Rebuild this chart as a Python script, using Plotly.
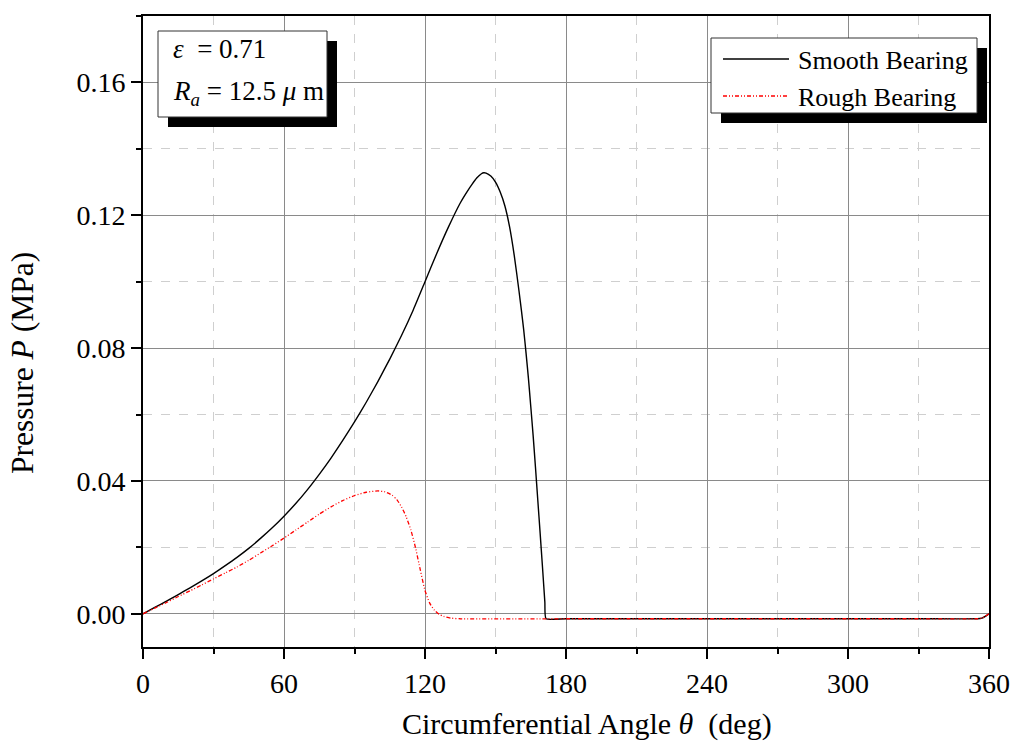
import plotly.graph_objects as go

# ---------------- data ----------------
theta_smooth = [0, 5, 10, 15, 20, 25, 30, 35, 40, 45, 50, 55, 60, 65, 70, 75, 80, 85, 90, 95,
                100, 105, 110, 115, 120, 125, 130, 135, 138, 140, 142, 144, 145, 146, 148, 150,
                152, 154, 156, 158, 160, 161, 162, 163, 164, 165, 166, 167, 168, 169, 170, 171,
                171.5, 180, 210, 240, 270, 300, 330, 355, 357, 360]
p_smooth = [0.0, 0.0019, 0.0038, 0.0058, 0.0078, 0.0099, 0.0121, 0.0145, 0.0170, 0.0197,
            0.0227, 0.0259, 0.0294, 0.0332, 0.0374, 0.0420, 0.0469, 0.0522, 0.0578, 0.0637,
            0.0700, 0.0767, 0.0838, 0.0915, 0.1000, 0.1085, 0.1165, 0.1237, 0.1272, 0.1293,
            0.1312, 0.1325, 0.1328, 0.1327, 0.1318, 0.1300, 0.1270, 0.1228, 0.1165, 0.1078,
            0.0972, 0.0915, 0.0855, 0.0785, 0.0710, 0.0625, 0.0538, 0.0442, 0.0342, 0.0242,
            0.0140, 0.0035, -0.0015,
            -0.0015, -0.0015, -0.0015, -0.0015, -0.0015, -0.0015, -0.0015, -0.0013, 0.0]

theta_rough = [0, 5, 10, 15, 20, 25, 30, 35, 40, 45, 50, 55, 60, 65, 70, 75, 80, 85, 90, 95,
               100, 103, 106, 108, 110, 112, 114, 116, 118, 120, 122, 124, 126, 128, 131, 135,
               180, 210, 240, 270, 300, 330, 355, 357, 360]
p_rough = [0.0, 0.0017, 0.0034, 0.0052, 0.0069, 0.0087, 0.0105, 0.0123, 0.0141, 0.0161,
           0.0183, 0.0205, 0.0228, 0.0252, 0.0276, 0.0300, 0.0322, 0.0341, 0.0356, 0.0366,
           0.0370, 0.0367, 0.0357, 0.0344, 0.0322, 0.0292, 0.0252, 0.0198, 0.0132, 0.0070,
           0.0032, 0.0011, -0.0001, -0.0008, -0.0013, -0.0015,
           -0.0015, -0.0015, -0.0015, -0.0015, -0.0015, -0.0015, -0.0015, -0.0013, 0.0]

series_names = ["Smooth Bearing", "Rough Bearing"]
x_ticks = [0, 60, 120, 180, 240, 300, 360]
y_ticks = [0.00, 0.04, 0.08, 0.12, 0.16]
x_title = "Circumferential Angle <i>θ</i>  (deg)"
y_title = "Pressure <i>P</i> (MPa)"

# ---------------- layout helpers ----------------
W, H = 1013, 743
L, R, T, B = 143, 24, 16, 96
PW, PH = W - L - R, H - T - B


def px(x):
    return (x - L) / PW


def py(y):
    return (H - B - y) / PH


FONT = "Liberation Serif, Times New Roman, serif"
DASH_RED = "4px,2px,1px,2px,1px,2px"
TICK_SIZE = 28
TEXT_SIZE = 27

fig = go.Figure()
fig.add_trace(go.Scatter(x=theta_smooth, y=p_smooth, mode="lines", name=series_names[0],
                         line=dict(color="black", width=1.4, shape="spline", smoothing=0.5),
                         showlegend=False))
fig.add_trace(go.Scatter(x=theta_rough, y=p_rough, mode="lines", name=series_names[1],
                         line=dict(color="red", width=1.3, dash=DASH_RED,
                                   shape="spline", smoothing=0.5),
                         showlegend=False))

axis_common = dict(
    showline=True, linecolor="black", linewidth=2, mirror=True,
    ticks="outside", ticklen=10, tickwidth=2, tickcolor="black",
    showgrid=True, gridcolor="#8a8a8a", gridwidth=1,
    zeroline=False, automargin=False,
    tickfont=dict(family=FONT, size=TICK_SIZE, color="black"),
)

fig.update_xaxes(
    **axis_common,
    range=[0, 360], tickvals=x_ticks,
    minor=dict(dtick=30, tick0=0, ticks="outside", ticklen=5, tickwidth=2, tickcolor="black",
               showgrid=True, gridcolor="#cfcfcf", griddash="dash", gridwidth=1),
)
fig.update_yaxes(
    **axis_common,
    range=[-0.01, 0.18], tickvals=y_ticks, tickformat=".2f",
    minor=dict(dtick=0.02, tick0=0, ticks="outside", ticklen=5, tickwidth=2, tickcolor="black",
               showgrid=True, gridcolor="#cfcfcf", griddash="dash", gridwidth=1),
)

shapes = []
annotations = []

# axis titles (placed as in the reference, slightly off-centre)
annotations.append(dict(xref="paper", yref="paper", x=px(587), y=py(724),
                        xanchor="center", yanchor="middle", showarrow=False,
                        text=x_title, font=dict(family=FONT, size=30, color="black")))
annotations.append(dict(xref="paper", yref="paper", x=px(22), y=py(363),
                        xanchor="center", yanchor="middle", showarrow=False, textangle=-90,
                        text=y_title, font=dict(family=FONT, size=31.5, color="black")))

# parameter box (top-left) with shadow
shapes.append(dict(type="rect", xref="paper", yref="paper",
                   x0=px(168), x1=px(337), y0=py(127), y1=py(41),
                   fillcolor="black", line=dict(width=0)))
shapes.append(dict(type="rect", xref="paper", yref="paper",
                   x0=px(158), x1=px(327), y0=py(117), y1=py(31),
                   fillcolor="white", line=dict(color="#333333", width=1)))
annotations.append(dict(xref="paper", yref="paper", x=px(171), y=py(49),
                        xanchor="left", yanchor="middle", showarrow=False,
                        text="<i>ε</i>  = 0.71",
                        font=dict(family=FONT, size=TEXT_SIZE, color="black")))
annotations.append(dict(xref="paper", yref="paper", x=px(171), y=py(93),
                        xanchor="left", yanchor="middle", showarrow=False,
                        text="<i>R</i><sub><i>a</i></sub> = 12.5 <i>μ</i> m",
                        font=dict(family=FONT, size=TEXT_SIZE, color="black")))

# legend box (top-right) with shadow
shapes.append(dict(type="rect", xref="paper", yref="paper",
                   x0=px(721), x1=px(987), y0=py(123), y1=py(48),
                   fillcolor="black", line=dict(width=0)))
shapes.append(dict(type="rect", xref="paper", yref="paper",
                   x0=px(711), x1=px(977), y0=py(113), y1=py(38),
                   fillcolor="white", line=dict(color="#333333", width=1)))
shapes.append(dict(type="line", xref="paper", yref="paper",
                   x0=px(723), x1=px(789), y0=py(59), y1=py(59),
                   line=dict(color="black", width=1.4)))
shapes.append(dict(type="line", xref="paper", yref="paper",
                   x0=px(723), x1=px(789), y0=py(96), y1=py(96),
                   line=dict(color="red", width=1.3, dash=DASH_RED)))
annotations.append(dict(xref="paper", yref="paper", x=px(796), y=py(60),
                        xanchor="left", yanchor="middle", showarrow=False,
                        text=series_names[0], font=dict(family=FONT, size=26, color="black")))
annotations.append(dict(xref="paper", yref="paper", x=px(796), y=py(97),
                        xanchor="left", yanchor="middle", showarrow=False,
                        text=series_names[1], font=dict(family=FONT, size=26, color="black")))

fig.update_layout(
    width=W, height=H,
    margin=dict(l=L, r=R, t=T, b=B, pad=0),
    paper_bgcolor="white", plot_bgcolor="white",
    shapes=shapes, annotations=annotations,
    showlegend=False,
    font=dict(family=FONT, color="black"),
)

# remove the default page margin so the figure fills the window exactly
fig.write_html("out.html",
               config={"displayModeBar": False},
               post_script="document.body.style.margin='0';"
                           "document.body.style.overflow='hidden';")
